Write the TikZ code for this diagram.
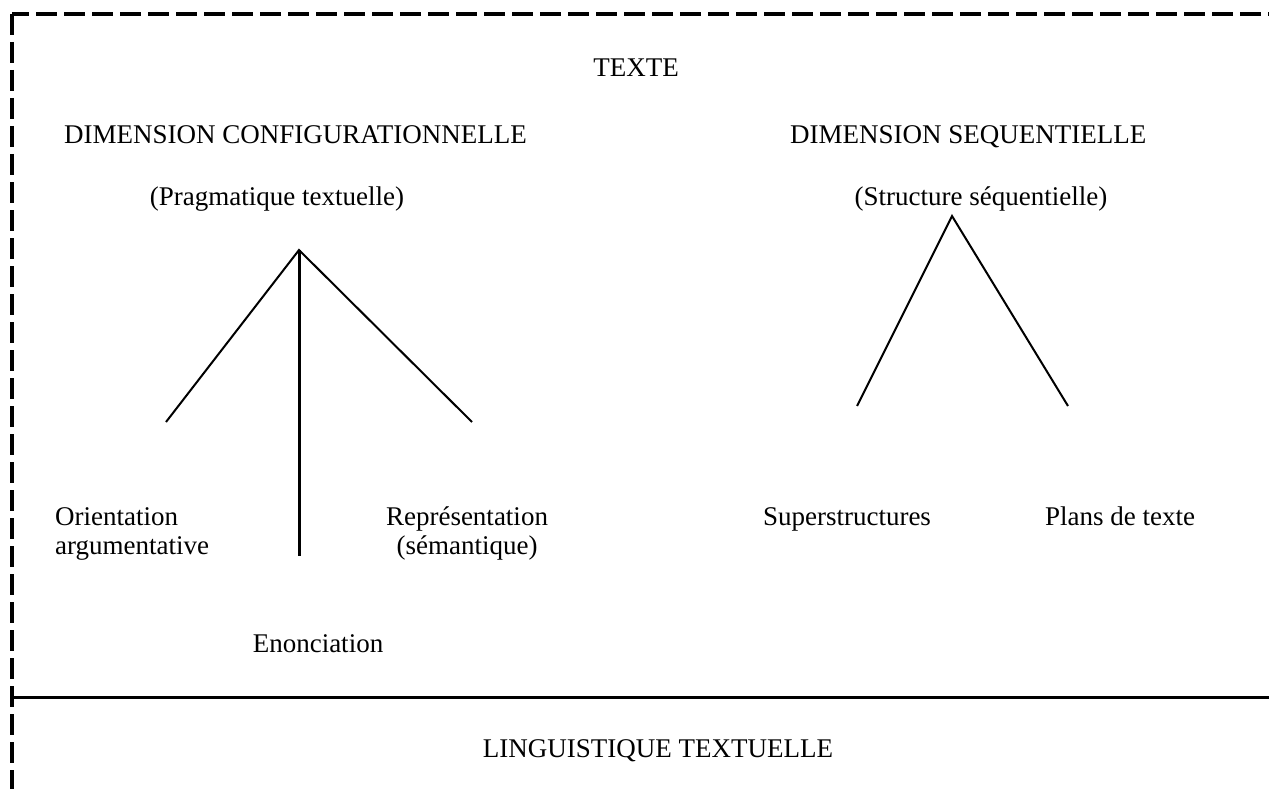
\documentclass[tikz,border=0pt]{standalone}
\usepackage{fontspec}
\setmainfont{Liberation Serif}
\begin{document}
\begin{tikzpicture}[x=1pt,y=-1pt,
    frame/.style={line width=3.5pt,dash pattern=on 21pt off 7pt},
    branch/.style={line width=2pt},
    label/.style={inner sep=0pt,font=\fontsize{27pt}{29pt}\selectfont}]
  \useasboundingbox (0,0) rectangle (1269,789);

  % Dashed frame, open to the right and at the bottom
  \coordinate (corner) at (12,14);
  \coordinate (frame top) at (1269,14);
  \coordinate (frame left) at (12,789);
  \draw[frame,dash phase=4pt] (corner) -- (frame top);
  \draw[frame] (corner) -- (frame left);

  % Solid separator above the linguistics band
  \coordinate (sep left) at (12,697);
  \coordinate (sep right) at (1269,697);
  \draw[line width=3pt] (sep left) -- (sep right);

  % Titles
  \node[label,anchor=base] (texte) at (636,77) {TEXTE};
  \node[label,anchor=base west] (dimconf) at (64,143) {DIMENSION CONFIGURATIONNELLE};
  \node[label,anchor=base west] (dimseq) at (790,143) {DIMENSION SEQUENTIELLE};
  \node[label,anchor=base] (prag) at (277,205) {(Pragmatique textuelle)};
  \node[label,anchor=base] (struct) at (981,205) {(Structure séquentielle)};

  % Configurational tree
  \coordinate (prag top) at (299,250);
  \coordinate (prag left) at (166,422);
  \coordinate (prag right) at (472,422);
  \coordinate (prag mid) at (299,556);
  \draw[branch] (prag left) -- (prag top) -- (prag right);
  \draw[line width=3pt] (prag top) -- (prag mid);

  % base of a two-line node is the baseline of its last line
  \node[label,anchor=base west,align=left] (orient) at (55,554) {Orientation\\argumentative};
  \node[label,anchor=base,align=center] (repr) at (467,554) {Représentation\\(sémantique)};
  \node[label,anchor=base] (enon) at (318,652) {Enonciation};

  % Sequential tree
  \coordinate (seq top) at (952,216);
  \coordinate (seq left) at (857,406);
  \coordinate (seq right) at (1068,406);
  \draw[branch] (seq left) -- (seq top) -- (seq right);

  \node[label,anchor=base] (super) at (847,525) {Superstructures};
  \node[label,anchor=base] (plans) at (1120,525) {Plans de texte};

  % Linguistics band
  \node[label,anchor=base] (ling) at (658,757) {LINGUISTIQUE TEXTUELLE};
\end{tikzpicture}
\end{document}
